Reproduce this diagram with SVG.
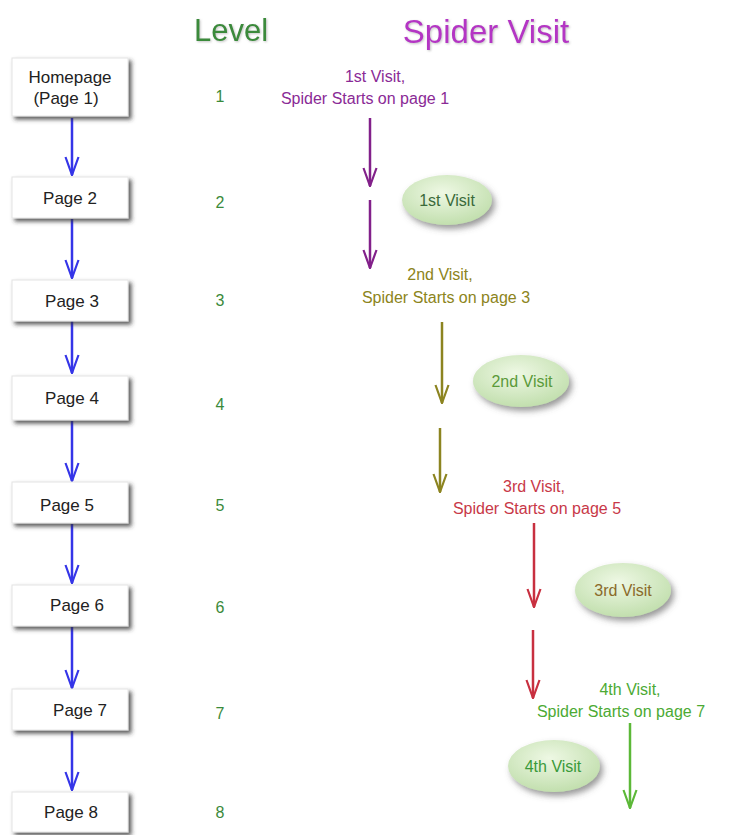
<svg xmlns="http://www.w3.org/2000/svg" width="731" height="835" viewBox="0 0 731 835" font-family="'Liberation Sans', Arial, sans-serif">
<style>
.box rect{fill:#fff;stroke:#e4e4e4;stroke-width:1;filter:url(#sh)}
.box text{font-size:17px;fill:#222;text-anchor:middle}
.lv{font-size:16px;fill:#3a8a3a;text-anchor:middle}
.ell ellipse{fill:url(#eg);filter:url(#sh2)}
.ell text{font-size:16px;text-anchor:middle}
.lbl{font-size:16px;text-anchor:middle}
.c line{stroke-width:2.5}
</style>
<defs>
<filter id="sh" x="-20%" y="-30%" width="150%" height="180%"><feDropShadow dx="3" dy="3" stdDeviation="2" flood-color="#333" flood-opacity="0.8"/></filter>
<filter id="sh2" x="-30%" y="-40%" width="160%" height="190%"><feDropShadow dx="3" dy="4" stdDeviation="3" flood-color="#555" flood-opacity="0.6"/></filter>
<filter id="ts" x="-10%" y="-20%" width="130%" height="150%"><feDropShadow dx="1" dy="1" stdDeviation="1" flood-color="#888" flood-opacity="0.5"/></filter>
<radialGradient id="eg" cx="45%" cy="35%" r="65%"><stop offset="0" stop-color="#eef8e4"/><stop offset="1" stop-color="#c2dfae"/></radialGradient>
<marker id="ab" viewBox="0 0 20 16" refX="19" refY="8" markerWidth="20" markerHeight="16" markerUnits="userSpaceOnUse" orient="auto"><path d="M1,1.5 L19,8 L1,14.5" fill="none" stroke="#3535e8" stroke-width="2.2"/></marker>
<marker id="ap" viewBox="0 0 20 16" refX="19" refY="8" markerWidth="20" markerHeight="16" markerUnits="userSpaceOnUse" orient="auto"><path d="M1,1.5 L19,8 L1,14.5" fill="none" stroke="#82208a" stroke-width="2.2"/></marker>
<marker id="ao" viewBox="0 0 20 16" refX="19" refY="8" markerWidth="20" markerHeight="16" markerUnits="userSpaceOnUse" orient="auto"><path d="M1,1.5 L19,8 L1,14.5" fill="none" stroke="#8c8420" stroke-width="2.2"/></marker>
<marker id="ar" viewBox="0 0 20 16" refX="19" refY="8" markerWidth="20" markerHeight="16" markerUnits="userSpaceOnUse" orient="auto"><path d="M1,1.5 L19,8 L1,14.5" fill="none" stroke="#c83040" stroke-width="2.2"/></marker>
<marker id="ag" viewBox="0 0 20 16" refX="19" refY="8" markerWidth="20" markerHeight="16" markerUnits="userSpaceOnUse" orient="auto"><path d="M1,1.5 L19,8 L1,14.5" fill="none" stroke="#5cb838" stroke-width="2.2"/></marker>
</defs>
<rect width="731" height="835" fill="#fff"/>

<text x="231" y="41" font-size="31" fill="#3a8a3a" text-anchor="middle" filter="url(#ts)">Level</text>
<text x="486" y="43" font-size="33" fill="#b434c4" text-anchor="middle" filter="url(#ts)">Spider Visit</text>

<g id="connectors">
<g class="c" stroke="#3535e8">
<line x1="72" y1="118" x2="72" y2="175" marker-end="url(#ab)"/>
<line x1="72" y1="219" x2="72" y2="278" marker-end="url(#ab)"/>
<line x1="72" y1="321" x2="72" y2="373" marker-end="url(#ab)"/>
<line x1="72" y1="421" x2="72" y2="481" marker-end="url(#ab)"/>
<line x1="72" y1="524" x2="72" y2="583" marker-end="url(#ab)"/>
<line x1="72" y1="627" x2="72" y2="688" marker-end="url(#ab)"/>
<line x1="72" y1="731" x2="72" y2="790" marker-end="url(#ab)"/>
</g>
<g class="c">
<line x1="370" y1="118" x2="370" y2="186" stroke="#82208a" marker-end="url(#ap)"/>
<line x1="370" y1="200" x2="370" y2="268" stroke="#82208a" marker-end="url(#ap)"/>
<line x1="442" y1="322" x2="442" y2="403" stroke="#8c8420" marker-end="url(#ao)"/>
<line x1="440" y1="428" x2="440" y2="492" stroke="#8c8420" marker-end="url(#ao)"/>
<line x1="534" y1="523" x2="534" y2="607" stroke="#c83040" marker-end="url(#ar)"/>
<line x1="533" y1="630" x2="533" y2="698" stroke="#c83040" marker-end="url(#ar)"/>
<line x1="630" y1="723" x2="630" y2="808" stroke="#5cb838" marker-end="url(#ag)"/>
</g>
</g>

<g id="homepage" class="box"><rect x="12" y="58" width="116" height="58"/><text x="70" y="83">Homepage</text><text x="66" y="104">(Page 1)</text></g>
<g id="page2" class="box"><rect x="12" y="177" width="116" height="41"/><text x="70" y="204">Page 2</text></g>
<g id="page3" class="box"><rect x="12" y="280" width="116" height="41"/><text x="72" y="307">Page 3</text></g>
<g id="page4" class="box"><rect x="12" y="376" width="116" height="44"/><text x="72" y="404">Page 4</text></g>
<g id="page5" class="box"><rect x="12" y="482" width="116" height="41"/><text x="67" y="511">Page 5</text></g>
<g id="page6" class="box"><rect x="12" y="585" width="116" height="41"/><text x="77" y="611">Page 6</text></g>
<g id="page7" class="box"><rect x="12" y="689" width="116" height="41"/><text x="80" y="716">Page 7</text></g>
<g id="page8" class="box"><rect x="12" y="792" width="116" height="40"/><text x="71" y="818">Page 8</text></g>

<g id="levels">
<text class="lv" x="220" y="102">1</text>
<text class="lv" x="220" y="208">2</text>
<text class="lv" x="220" y="306">3</text>
<text class="lv" x="220" y="410">4</text>
<text class="lv" x="220" y="511">5</text>
<text class="lv" x="220" y="613">6</text>
<text class="lv" x="220" y="719">7</text>
<text class="lv" x="220" y="818">8</text>
</g>

<g id="visit1-label" class="lbl" fill="#8a2a96">
<text x="375" y="82">1st Visit,</text>
<text x="365" y="104">Spider Starts on page 1</text>
</g>
<g id="visit2-label" class="lbl" fill="#8c8420">
<text x="440" y="280">2nd Visit,</text>
<text x="446" y="303">Spider Starts on page 3</text>
</g>
<g id="visit3-label" class="lbl" fill="#c83848">
<text x="534" y="492">3rd Visit,</text>
<text x="537" y="514">Spider Starts on page 5</text>
</g>
<g id="visit4-label" class="lbl" fill="#4caa34">
<text x="630" y="695">4th Visit,</text>
<text x="621" y="717">Spider Starts on page 7</text>
</g>

<g id="visit1" class="ell"><ellipse cx="447" cy="200" rx="45" ry="25"/><text x="447" y="206" fill="#3a6a3a">1st Visit</text></g>
<g id="visit2" class="ell"><ellipse cx="521" cy="381" rx="48" ry="26"/><text x="522" y="387" fill="#5a9a3a">2nd Visit</text></g>
<g id="visit3" class="ell"><ellipse cx="623" cy="590" rx="48" ry="27"/><text x="623" y="596" fill="#8a6a2a">3rd Visit</text></g>
<g id="visit4" class="ell"><ellipse cx="554" cy="766" rx="46" ry="26"/><text x="553" y="772" fill="#3a9a3a">4th Visit</text></g>
</svg>
